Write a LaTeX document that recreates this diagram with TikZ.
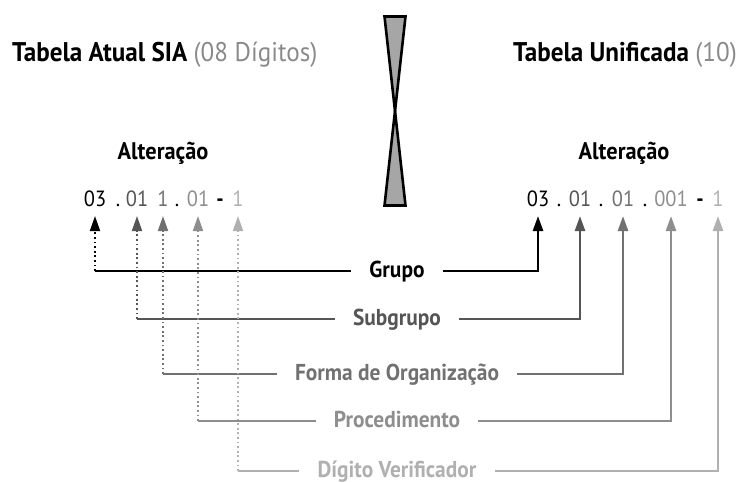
\documentclass[tikz,border=0pt]{standalone}
\usepackage{fontspec}
\setmainfont{PT Sans}[FakeStretch=0.93]
\usetikzlibrary{arrows.meta}
\definecolor{tone1}{HTML}{000000}
\definecolor{tone2}{HTML}{555555}
\definecolor{tone3}{HTML}{717171}
\definecolor{tone4}{HTML}{8E8E8E}
\definecolor{tone5}{HTML}{B0B0B0}
\definecolor{hint}{HTML}{8A8A8A}
\definecolor{glass}{HTML}{A6A6A6}
\begin{document}
\begin{tikzpicture}[x=1pt,y=-1pt,
	title/.style={anchor=base west,inner sep=0pt,font=\bfseries\fontsize{27}{30}\selectfont},
	head/.style={anchor=base,inner sep=0pt,font=\bfseries\fontsize{24}{27}\selectfont},
	digit/.style={anchor=base,inner sep=0pt,outer sep=0pt,outer ysep=10pt,text depth=0pt,font=\fontsize{22}{25}\selectfont},
	part/.style={inner xsep=18pt,inner ysep=0pt,text height=12pt,text depth=0pt,font=\bfseries\fontsize{23}{26}\selectfont},
	tip/.style={-{Triangle[length=15pt,width=10pt]}},
	wire/.style={line width=2.6pt},
	dots/.style={line width=1.8pt,dash pattern=on 1.8pt off 2.8pt}]
	\useasboundingbox (0,0) rectangle (739,482);

	\node[title] (oldtab) at (12,61) {Tabela Atual SIA {\mdseries\color{hint}(08 Dígitos)}};
	\node[title] (newtab) at (513,61) {Tabela Unificada {\mdseries\color{hint}(10)}};

	\filldraw[fill=glass,line width=2.6pt,line join=miter] (384.5,16.5) -- (405.5,16.5) -- (395,111) -- cycle;
	\filldraw[fill=glass,line width=2.6pt,line join=miter] (395,111) -- (384.5,205.5) -- (405.5,205.5) -- cycle;

	\node[head] (oldalt) at (163,159) {Alteração};
	\node[head] (newalt) at (624,159) {Alteração};

	\node[digit,text=tone1] (l1) at (95,206) {03};
	\node[digit] (ld1) at (118,206) {.};
	\node[digit,text=tone2] (l2) at (137,206) {01};
	\node[digit,text=tone3] (l3) at (163,206) {1};
	\node[digit] (ld2) at (177,206) {.};
	\node[digit,text=tone4] (l4) at (198,206) {01};
	\node[digit] (ld3) at (220,206) {\textbf{-}};
	\node[digit,text=tone5] (l5) at (238,206) {1};

	\node[digit,text=tone1] (r1) at (538,206) {03};
	\node[digit] (rd1) at (559,206) {.};
	\node[digit,text=tone2] (r2) at (580,206) {01};
	\node[digit] (rd2) at (601,206) {.};
	\node[digit,text=tone3] (r3) at (623,206) {01};
	\node[digit] (rd3) at (645,206) {.};
	\node[digit,text=tone4] (r4) at (671,206) {001};
	\node[digit] (rd4) at (700,206) {\textbf{-}};
	\node[digit,text=tone5] (r5) at (718,206) {1};

	\foreach \i/\y/\txt in {1/271/Grupo,2/319/Subgrupo,3/374/Forma de Organização,4/421/Procedimento,5/471/Dígito Verificador}{
		\node[part,text=tone\i] (cat\i) at (397,\y) {\txt};
		\draw[wire,tone\i] (l\i |- cat\i.west) -- (cat\i.west);
		\draw[dots,tip,tone\i] (l\i |- cat\i.west) -- (l\i.south);
		\draw[wire,tip,tone\i] (cat\i.east) -| (r\i.south);
	}
\end{tikzpicture}
\end{document}
